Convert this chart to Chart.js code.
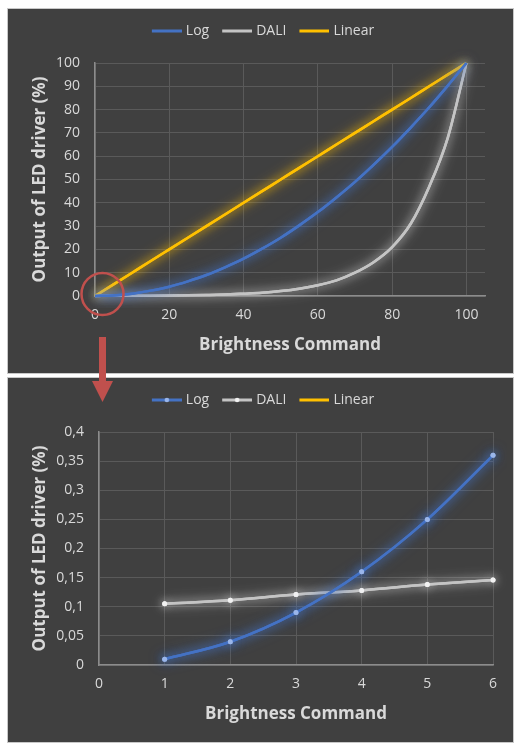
<!DOCTYPE html>
<html>
<head>
<meta charset="utf-8">
<script src="https://cdn.jsdelivr.net/npm/chart.js@4.4.1/dist/chart.umd.min.js"></script>
<style>
body { margin:0; background:#fff; width:525px; height:753px; position:relative; overflow:hidden; }
.panel { position:absolute; left:7px; width:505px; height:364px; background:#404040; border:1px solid #c8c8c8; }
#p1 { top:8px; }
#p2 { top:377px; }
canvas { display:block; }
svg { position:absolute; left:0; top:0; }
</style>
</head>
<body>
<div class="panel" id="p1"><canvas id="c1" width="505" height="364"></canvas></div>
<div class="panel" id="p2"><canvas id="c2" width="505" height="364"></canvas></div>
<svg width="525" height="753">
  <circle cx="102.5" cy="294" r="21" fill="none" stroke="#c0504d" stroke-width="2.5"/>
  <rect x="99" y="337" width="7" height="46" fill="#c0504d"/>
  <polygon points="92,381 113,381 102.5,402" fill="#c0504d"/>
</svg>
<script>
// full range, brightness command 0..100
const command = [0, 5, 10, 15, 20, 25, 30, 35, 40, 45, 50, 55, 60, 65, 70, 75, 80, 85, 90, 95, 100];
const logFull = [0, 0.25, 1, 2.3, 4, 6.3, 9, 12.3, 16, 20.3, 25, 30.3, 36, 42.3, 49, 56.3, 64, 72.3, 81, 90.3, 100];
const daliFull = [0.05, 0.07, 0.1, 0.14, 0.2, 0.3, 0.45, 0.65, 1, 1.4, 2.1, 3.1, 4.6, 6.7, 10, 14.5, 21, 31, 47, 68, 100];
const linearFull = [0, 5, 10, 15, 20, 25, 30, 35, 40, 45, 50, 55, 60, 65, 70, 75, 80, 85, 90, 95, 100];

// zoomed range, commands 1..6
const zoomCommand = [1, 2, 3, 4, 5, 6];
const logZoom = [0.01, 0.04, 0.09, 0.16, 0.25, 0.36];
const daliZoom = [0.105, 0.111, 0.121, 0.128, 0.138, 0.146];
const linearZoom = [1, 2, 3, 4, 5, 6];

const seriesNames = ['Log', 'DALI', 'Linear'];
const lineColors = ['#4472c4', '#c4c4c4', '#ffc000'];
const dotColors = ['#9ab6ea', '#f2f2f2', null];
const glowColors = ['rgba(68,114,196,1)', 'rgba(255,255,255,0.6)', 'rgba(255,192,0,0.85)'];

Chart.defaults.font.family = "'Open Sans', sans-serif";
Chart.defaults.color = '#d9d9d9';

function pts(xs, ys) {
  return xs.map((x, i) => ({x: x, y: ys[i]}));
}

function legendImg(color, dot) {
  const c = document.createElement('canvas');
  c.width = 36; c.height = 8;
  const g = c.getContext('2d');
  g.strokeStyle = color; g.lineWidth = 3;
  g.beginPath(); g.moveTo(6, 4); g.lineTo(36, 4); g.stroke();
  if (dot) {
    g.fillStyle = dot;
    g.beginPath(); g.arc(21, 4, 2.3, 0, Math.PI * 2); g.fill();
  }
  return c;
}

// soft halo round each line, drawn twice to make it stronger
const glow = {
  id: 'glow',
  beforeDatasetDraw(chart, args) {
    const ds = chart.data.datasets[args.index];
    const ctx = chart.ctx;
    ctx.save();
    if (ds.glow) {
      ctx.shadowColor = ds.glow;
      ctx.shadowBlur = 14;
    }
  },
  afterDatasetDraw(chart, args) {
    const ds = chart.data.datasets[args.index];
    const ctx = chart.ctx;
    if (ds.glow) {
      const a = chart.chartArea;
      ctx.save();
      ctx.beginPath();
      ctx.rect(a.left - 12, a.top - 12, a.right - a.left + 26, a.bottom - a.top + 24);
      ctx.clip();
      ctx.shadowBlur = 8;
      args.meta.controller.draw();
      ctx.restore();
    }
    ctx.restore();
  }
};

// taller legend box, and legend nudged right like the original
const legendSpace = {
  id: 'legendSpace',
  afterInit(chart, args, opts) {
    const fit = chart.legend.fit;
    chart.legend.fit = function () { fit.call(this); this.height = 49; };
    const draw = chart.legend.draw;
    chart.legend.draw = function () {
      chart.ctx.save();
      chart.ctx.translate(opts.shift || 0, 0);
      draw.call(this);
      chart.ctx.restore();
    };
  }
};

function makeChart(id, sets, withDots, xOpts, yOpts, leftW, rightPad, shift) {
  const datasets = sets.map((vals, i) => ({
    label: seriesNames[i],
    data: vals,
    borderColor: lineColors[i],
    backgroundColor: lineColors[i],
    borderWidth: 2.5,
    pointRadius: withDots && dotColors[i] ? 2.5 : 0,
    pointBackgroundColor: dotColors[i] || lineColors[i],
    pointBorderWidth: 0,
    cubicInterpolationMode: 'monotone',
    glow: withDots && i === 2 ? null : glowColors[i],
    clip: withDots && i === 2 ? 0 : {left: 12, right: 14, top: 14, bottom: 12}
  }));
  const imgs = seriesNames.map((n, i) => legendImg(lineColors[i], withDots ? dotColors[i] : null));
  return new Chart(document.getElementById(id), {
    type: 'line',
    data: {datasets: datasets},
    options: {
      responsive: false,
      animation: false,
      events: [],
      layout: {padding: {top: 5, right: rightPad, left: 0, bottom: 0}},
      plugins: {
        tooltip: {enabled: false},
        legendSpace: {shift: shift},
        legend: {
          position: 'top',
          labels: {
            color: '#d9d9d9',
            font: {size: 14},
            usePointStyle: true,
            pointStyleWidth: 30,
            padding: 10,
            generateLabels(chart) {
              const items = Chart.defaults.plugins.legend.labels.generateLabels(chart);
              items.forEach((it, i) => { it.pointStyle = imgs[i]; it.fontColor = '#d9d9d9'; });
              return items;
            }
          }
        }
      },
      scales: {
        x: Object.assign({
          type: 'linear',
          grid: {color: '#5a5a5a', drawTicks: false},
          border: {color: '#8c8c8c', width: 1.5},
          title: {display: true, text: 'Brightness Command', color: '#d9d9d9',
            font: {size: 17, weight: 'bold'}, padding: {top: 0, bottom: 18}},
          afterFit(s) { s.height = 77; }
        }, xOpts),
        y: Object.assign({
          grid: {color: '#5a5a5a', drawTicks: false},
          border: {color: '#8c8c8c', width: 1.5},
          title: {display: true, text: 'Output of LED driver (%)', color: '#d9d9d9',
            font: {size: 17, weight: 'bold'}, padding: {top: 22, bottom: 0}},
          afterFit(s) { s.width = leftW; }
        }, yOpts)
      }
    },
    plugins: [glow, legendSpace]
  });
}

makeChart('c1',
  [pts(command, logFull), pts(command, daliFull), pts(command, linearFull)],
  false,
  {min: 0, max: 105, ticks: {stepSize: 20, includeBounds: false, padding: 11, color: '#d9d9d9', font: {size: 14}}},
  {min: 0, max: 100, ticks: {stepSize: 10, padding: 15, color: '#d9d9d9', font: {size: 14}}},
  87, 28, 15);

makeChart('c2',
  [pts(zoomCommand, logZoom), pts(zoomCommand, daliZoom), pts(zoomCommand, linearZoom)],
  true,
  {min: 0, max: 6, ticks: {stepSize: 1, padding: 11, color: '#d9d9d9', font: {size: 14}}},
  {min: 0, max: 0.4, ticks: {stepSize: 0.05, padding: 15, color: '#d9d9d9', font: {size: 14},
    callback: v => String(Math.round(v * 100) / 100).replace('.', ',')}},
  91, 20, 11);
</script>
</body>
</html>
